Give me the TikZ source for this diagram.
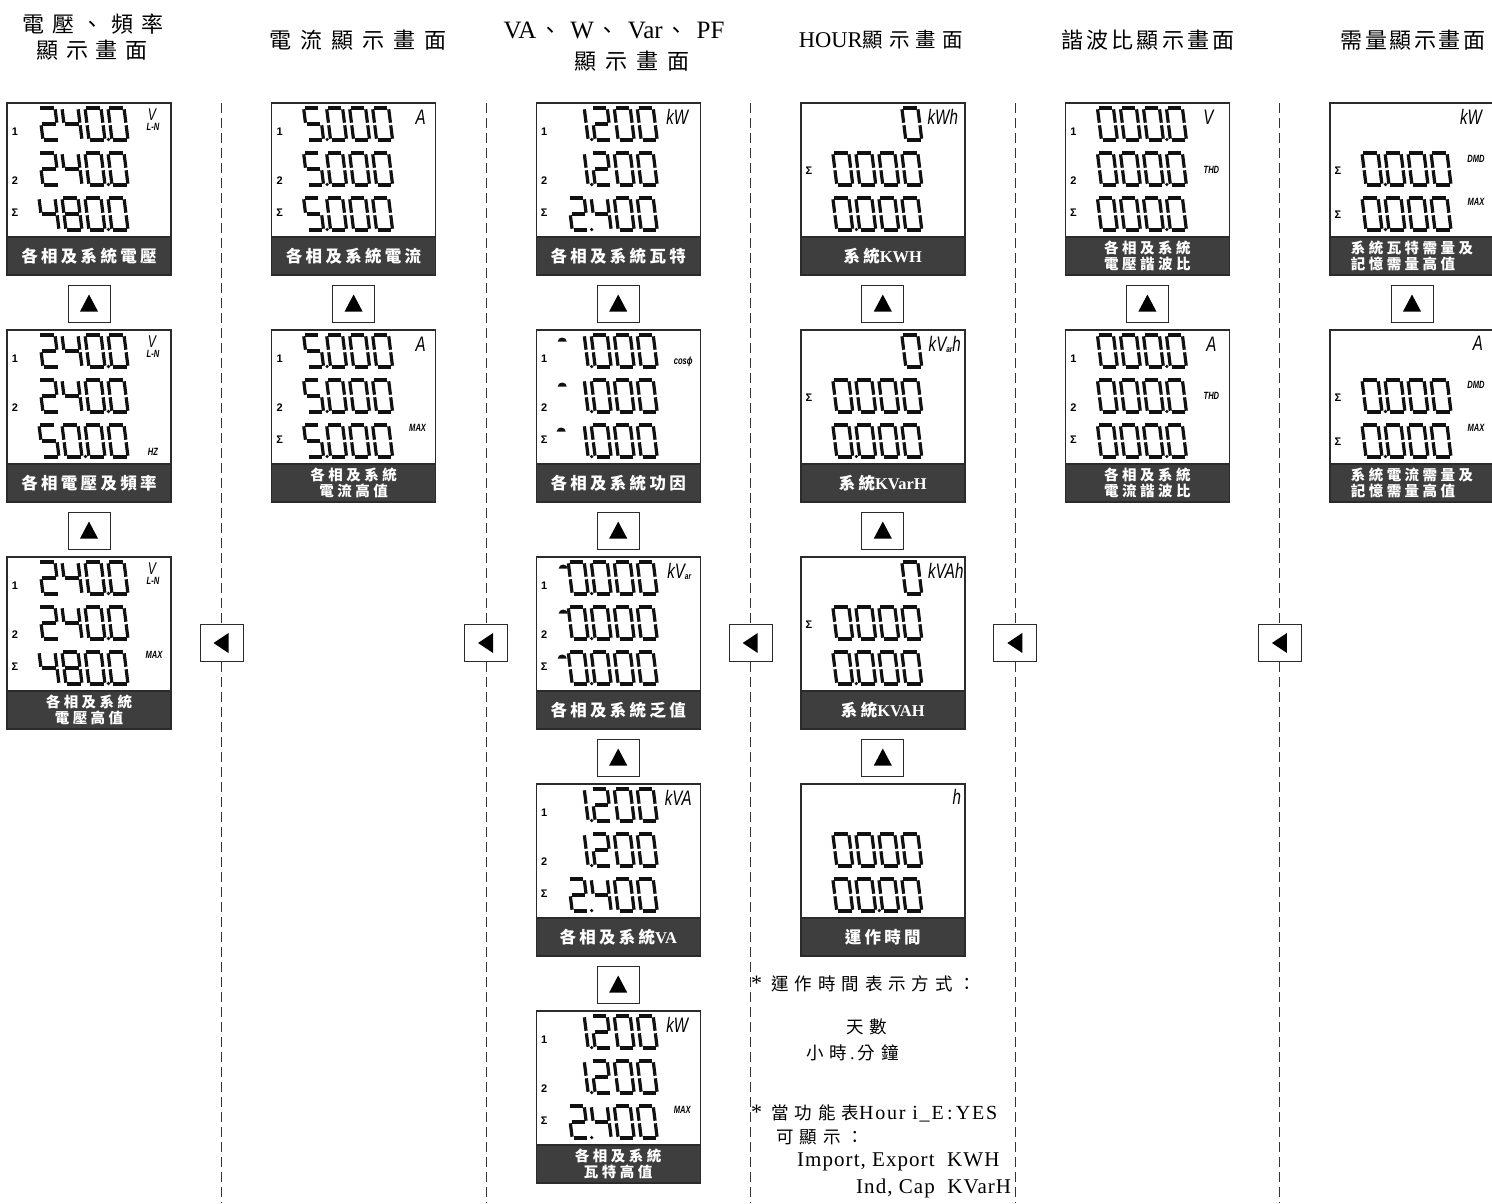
\documentclass[tikz,border=0pt]{standalone}
\usepackage{fontspec}
\setmainfont{Liberation Serif}
\newfontfamily\cjkf{Noto Sans CJK TC}
\newfontfamily\bandf{Noto Sans CJK TC}[LetterSpace=20]
\newfontfamily\bandg{Noto Sans CJK TC}[LetterSpace=24]
\newfontfamily\unitf{Liberation Sans}[FakeStretch=0.72]
\newfontfamily\labf{Liberation Sans}
\newfontfamily\latsp{Liberation Serif}[LetterSpace=5]
\definecolor{boxc}{HTML}{2B2B2B}
\definecolor{bandc}{HTML}{3E3E3E}
\definecolor{dashc}{HTML}{333333}
\definecolor{segc}{HTML}{111111}
\tikzset{
  dispbox/.style={draw=boxc, line width=1.4pt, fill=white, minimum width=164pt, minimum height=172pt, inner sep=0pt, outer sep=0pt},
  band1/.style={draw=boxc, line width=1.4pt, fill=bandc, minimum width=164pt, minimum height=38pt, inner sep=0pt, outer sep=0pt, text=white, font=\bandf\bfseries\fontsize{16.5}{17}\selectfont},
  band2/.style={band1, align=center, font=\bandg\bfseries\fontsize{14.5}{16.5}\selectfont},
  band3/.style={band1, align=left, font=\bandg\bfseries\fontsize{14.5}{16.5}\selectfont},
  upbox/.style={draw=boxc, line width=1pt, fill=white, minimum width=42pt, minimum height=37pt, inner sep=0pt,
    path picture={\fill[black] ([xshift=-9pt,yshift=-8pt]path picture bounding box.center) -- ++(18pt,0pt) -- ++(-9pt,17pt) -- cycle;}},
  leftbox/.style={draw=boxc, line width=1pt, fill=white, minimum width=43pt, minimum height=37pt, inner sep=0pt,
    path picture={\fill[black] ([xshift=7pt,yshift=10pt]path picture bounding box.center) -- ++(0pt,-20pt) -- ++(-15pt,10pt) -- cycle;}},
  seg/.style={draw=segc, line width=3.2pt},
  dashline/.style={draw=dashc, line width=0.9pt, dash pattern=on 10pt off 5pt},
  rowlab/.style={font=\labf\bfseries\fontsize{11}{11}\selectfont, inner sep=0pt},
  uthin/.style={font=\unitf\itshape\fontsize{21}{21}\selectfont, inner sep=0pt},
  ubold/.style={font=\unitf\bfseries\itshape\fontsize{10.5}{10.5}\selectfont, inner sep=0pt},
  title/.style={font=\cjkf\fontsize{22}{24}\selectfont, inner sep=0pt},
  note/.style={font=\cjkf\fontsize{17.5}{17.5}\selectfont\addfontfeatures{LetterSpace=34}, inner sep=0pt},
  latn/.style={font=\latsp\fontsize{21}{21}\selectfont, inner sep=0pt},
}
% seven segment pieces (local coords, v upward)
\newcommand\SA{\draw[seg] (1.3,32)--(14.7,32);}
\newcommand\SB{\draw[seg] (16,30.7)--(16,17.3);}
\newcommand\SC{\draw[seg] (16,14.7)--(16,1.3);}
\newcommand\SD{\draw[seg] (1.3,0)--(14.7,0);}
\newcommand\SE{\draw[seg] (0,1.3)--(0,14.7);}
\newcommand\SF{\draw[seg] (0,17.3)--(0,30.7);}
\newcommand\SG{\draw[seg] (1.3,16)--(14.7,16);}
\newcommand\dig[3]{\begin{scope}[shift={(#1,#2)},yscale=-1,xslant=0.125]%
\ifcase#3\relax\SA\SB\SC\SD\SE\SF\or\SB\SC\or\SA\SB\SG\SE\SD\or\SA\SB\SG\SC\SD\or\SF\SG\SB\SC\or\SA\SF\SG\SC\SD\or\SA\SF\SG\SE\SC\SD\or\SA\SB\SC\or\SA\SB\SC\SD\SE\SF\SG\or\SA\SB\SC\SD\SF\SG\fi
\end{scope}}
\newcommand\frow[6]{\dig{36}{#1}{#2}\dig{59}{#1}{#3}\dig{82}{#1}{#4}\dig{105}{#1}{#5}%
  \ifnum#6>-1 \fill[segc] ({55.5+23*#6},{#1-0.5}) circle[radius=1.8];\fi}
\newcommand\rl[3]{\node[rowlab] (\dn-#1) at (8,#2) {#3};}
\newcommand\pfs[2]{\fill[segc] ({#1-4.5},{#2+1.5}) arc[start angle=180,end angle=360,x radius=4.5,y radius=4] -- cycle;}
\newcommand\uthin[4]{\node[uthin] (\dn-#1) at (#2,#3) {#4};}
\newcommand\ubold[4]{\node[ubold] (\dn-#1) at (#2,#3) {#4};}
\newcommand\vln{\uthin{uv}{145}{12}{\fontsize{17}{17}\selectfont V}\ubold{uln}{146}{24}{L-N}}
\newcommand\ott{\rl{r1}{29}{1}\rl{r2}{78}{2}\rl{r3}{110}{Σ}}
\newcommand\disp[6]{\def\dn{#1}%
  \node[dispbox, anchor=north west] (#1) at (#2,#3) {};
  \node[#4, anchor=south west] (#1-band) at (#1.south west) {#5};
  \begin{scope}[shift={(#2,#3)}]#6\end{scope}}
\newcommand\kvar{kV\raisebox{-1pt}{\bfseries\fontsize{9}{9}\selectfont ar}}
\begin{document}
\begin{tikzpicture}[x=1pt,y=-1pt]
\useasboundingbox (0,0) rectangle (1492,1203);
% ---------- titles
\node[title] (t1a) at (93,24) {\addfontfeatures{LetterSpace=36}電壓、頻率};
\node[title] (t1b) at (92,50) {\addfontfeatures{LetterSpace=36}顯示畫面};
\node[title] (t2) at (358,40) {\addfontfeatures{LetterSpace=41}電流顯示畫面};
\node[title] (t3a) at (614,30) {{\rmfamily\fontsize{25}{25}\selectfont VA}\hspace{3pt}、\hspace{9pt}{\rmfamily\fontsize{25}{25}\selectfont W}\hspace{3pt}、\hspace{9pt}{\rmfamily\fontsize{25}{25}\selectfont Var}\hspace{3pt}、\hspace{9pt}{\rmfamily\fontsize{25}{25}\selectfont PF}};
\node[title] (t3b) at (632,61) {\addfontfeatures{LetterSpace=41}顯示畫面};
\node[title] (t4) at (881,40) {{\rmfamily\fontsize{22.5}{22}\selectfont HOUR}\fontsize{20.5}{22}\selectfont\addfontfeatures{LetterSpace=30}顯示畫面};
\node[title] (t5) at (1148,40) {\addfontfeatures{LetterSpace=14}諧波比顯示畫面};
\node[title] (t6) at (1413,40) {\addfontfeatures{LetterSpace=11}需量顯示畫面};
% ---------- column 1
\disp{d11}{7}{103}{band1}{各相及系統電壓}{\ott\frow{37}{2}{4}{0}{0}{2}\frow{82}{2}{4}{0}{0}{2}\frow{127}{4}{8}{0}{0}{2}\vln}
\disp{d12}{7}{330}{band1}{各相電壓及頻率}{\rl{r1}{29}{1}\rl{r2}{78}{2}\frow{37}{2}{4}{0}{0}{2}\frow{82}{2}{4}{0}{0}{2}\frow{127}{5}{0}{0}{0}{1}\vln\ubold{uhz}{146}{122}{HZ}}
\disp{d13}{7}{557}{band2}{各相及系統\\電壓高值}{\ott\frow{37}{2}{4}{0}{0}{2}\frow{82}{2}{4}{0}{0}{2}\frow{127}{4}{8}{0}{0}{2}\vln\ubold{umax}{147}{98}{MAX}}
\node[upbox] (a11) at (89,303.5) {};
\node[upbox] (a12) at (89,530.5) {};
% ---------- column 2
\disp{d21}{271.6}{103}{band1}{各相及系統電流}{\ott\frow{37}{5}{0}{0}{0}{0}\frow{82}{5}{0}{0}{0}{0}\frow{127}{5}{0}{0}{0}{0}\uthin{ua}{149}{14}{A}}
\disp{d22}{271.6}{330}{band2}{各相及系統\\電流高值}{\ott\frow{37}{5}{0}{0}{0}{0}\frow{82}{5}{0}{0}{0}{0}\frow{127}{5}{0}{0}{0}{0}\uthin{ua}{149}{14}{A}\ubold{umax}{146}{98}{MAX}}
\node[upbox] (a21) at (353.6,303.5) {};
% ---------- column 3
\disp{d31}{536.2}{103}{band1}{各相及系統瓦特}{\ott\frow{37}{1}{2}{0}{0}{0}\frow{82}{1}{2}{0}{0}{0}\frow{127}{2}{4}{0}{0}{0}\uthin{ukw}{141}{14}{kW}}
\disp{d32}{536.2}{330}{band1}{各相及系統功因}{\ott\pfs{26}{10}\pfs{26}{55}\pfs{25}{100}\frow{37}{1}{0}{0}{0}{0}\frow{82}{1}{0}{0}{0}{0}\frow{127}{1}{0}{0}{0}{0}\ubold{ucos}{147}{32}{cosϕ}}
\disp{d33}{536.2}{557}{band1}{各相及系統乏值}{\ott\pfs{27}{10}\pfs{27}{55}\pfs{26}{100}\frow{37}{0}{0}{0}{0}{0}\frow{82}{0}{0}{0}{0}{0}\frow{127}{0}{0}{0}{0}{0}\uthin{ukvar}{143}{14}{\kvar}}
\disp{d34}{536.2}{784}{band1}{各相及系統{\rmfamily\bfseries VA}}{\ott\frow{37}{1}{2}{0}{0}{0}\frow{82}{1}{2}{0}{0}{0}\frow{127}{2}{4}{0}{0}{0}\uthin{ukva}{142}{14}{kVA}}
\disp{d35}{536.2}{1011}{band2}{各相及系統\\瓦特高值}{\ott\frow{37}{1}{2}{0}{0}{0}\frow{82}{1}{2}{0}{0}{0}\frow{127}{2}{4}{0}{0}{0}\uthin{ukw}{141}{14}{kW}\ubold{umax}{146}{99}{MAX}}
\node[upbox] (a31) at (618.2,303.5) {};
\node[upbox] (a32) at (618.2,530.5) {};
\node[upbox] (a33) at (618.2,757.5) {};
\node[upbox] (a34) at (618.2,984.5) {};
% ---------- column 4
\disp{d41}{800.8}{103}{band1}{系統{\rmfamily\bfseries KWH}}{\rl{r2}{68}{Σ}\dig{105}{37}{0}\frow{82}{0}{0}{0}{0}{-1}\frow{127}{0}{0}{0}{0}{0}\uthin{ukwh}{142}{14}{kWh}}
\disp{d42}{800.8}{330}{band1}{系統{\rmfamily\bfseries KVarH}}{\rl{r2}{68}{Σ}\dig{105}{37}{0}\frow{82}{0}{0}{0}{0}{-1}\frow{127}{0}{0}{0}{0}{0}\uthin{ukvarh}{144}{14}{\kvar h}}
\disp{d43}{800.8}{557}{band1}{系統{\rmfamily\bfseries KVAH}}{\rl{r2}{68}{Σ}\dig{105}{37}{0}\frow{82}{0}{0}{0}{0}{-1}\frow{127}{0}{0}{0}{0}{0}\uthin{ukvah}{145}{14}{kVAh}}
\disp{d44}{800.8}{784}{band1}{運作時間}{\frow{82}{0}{0}{0}{0}{-1}\frow{127}{0}{0}{0}{0}{1}\uthin{uh}{156}{13}{h}}
\node[upbox] (a41) at (882.8,303.5) {};
\node[upbox] (a42) at (882.8,530.5) {};
\node[upbox] (a43) at (882.8,757.5) {};
% ---------- column 5
\disp{d51}{1065.4}{103}{band2}{各相及系統\\電壓諧波比}{\ott\frow{37}{0}{0}{0}{0}{2}\frow{82}{0}{0}{0}{0}{2}\frow{127}{0}{0}{0}{0}{2}\uthin{uv}{143}{14}{V}\ubold{uthd}{146}{67}{THD}}
\disp{d52}{1065.4}{330}{band2}{各相及系統\\電流諧波比}{\ott\frow{37}{0}{0}{0}{0}{2}\frow{82}{0}{0}{0}{0}{2}\frow{127}{0}{0}{0}{0}{2}\uthin{ua}{146}{14}{A}\ubold{uthd}{146}{66}{THD}}
\node[upbox] (a51) at (1147.4,303.5) {};
% ---------- column 6
\disp{d61}{1330}{103}{band3}{系統瓦特需量及\\記憶需量高值}{\rl{r2}{68}{Σ}\rl{r3}{112}{Σ}\frow{82}{0}{0}{0}{0}{0}\frow{127}{0}{0}{0}{0}{0}\uthin{ukw}{141}{14}{kW}\ubold{udmd}{146}{56}{DMD}\ubold{umax}{146}{99}{MAX}}
\disp{d62}{1330}{330}{band3}{系統電流需量及\\記憶需量高值}{\rl{r2}{68}{Σ}\rl{r3}{112}{Σ}\frow{82}{0}{0}{0}{0}{0}\frow{127}{0}{0}{0}{0}{0}\uthin{ua}{148}{13}{A}\ubold{udmd}{146}{55}{DMD}\ubold{umax}{146}{98}{MAX}}
\node[upbox] (a61) at (1412,303.5) {};
% ---------- separators with left arrows
\foreach \i/\x in {1/221.5,2/486.1,3/750.7,4/1015.3,5/1279.9}{
  \coordinate (v\i t) at (\x,103);
  \coordinate (v\i b) at (\x,1203);
  \node[leftbox] (l\i) at (\x,643) {};
  \draw[dashline] (v\i t) -- (l\i.north);
  \draw[dashline] (l\i.south) -- (v\i b);
}
% ---------- notes
\node[note, anchor=west] (n1) at (751,984) {{\rmfamily\fontsize{22}{22}\selectfont *}\hspace{9pt}運作時間表示方式：};
\node[note] (n2) at (867,1027) {天數};
\node[note, anchor=west] (n3) at (806,1053) {小時{\rmfamily\fontsize{18}{18}\selectfont\,.\,}分鐘};
\node[note, anchor=west] (n4) at (751,1113) {{\rmfamily\fontsize{22}{22}\selectfont *}\hspace{9pt}當功能表{\latsp\fontsize{20}{20}\selectfont\addfontfeatures{LetterSpace=9}Hour i\_E\,:\,YES}};
\node[note, anchor=west] (n5) at (776,1137) {可顯示：};
\node[latn, anchor=west] (n6) at (797,1162) {Import, Export\ \ KWH};
\node[latn, anchor=west] (n7) at (856,1188) {Ind, Cap\ \ KVarH};
\end{tikzpicture}
\end{document}
